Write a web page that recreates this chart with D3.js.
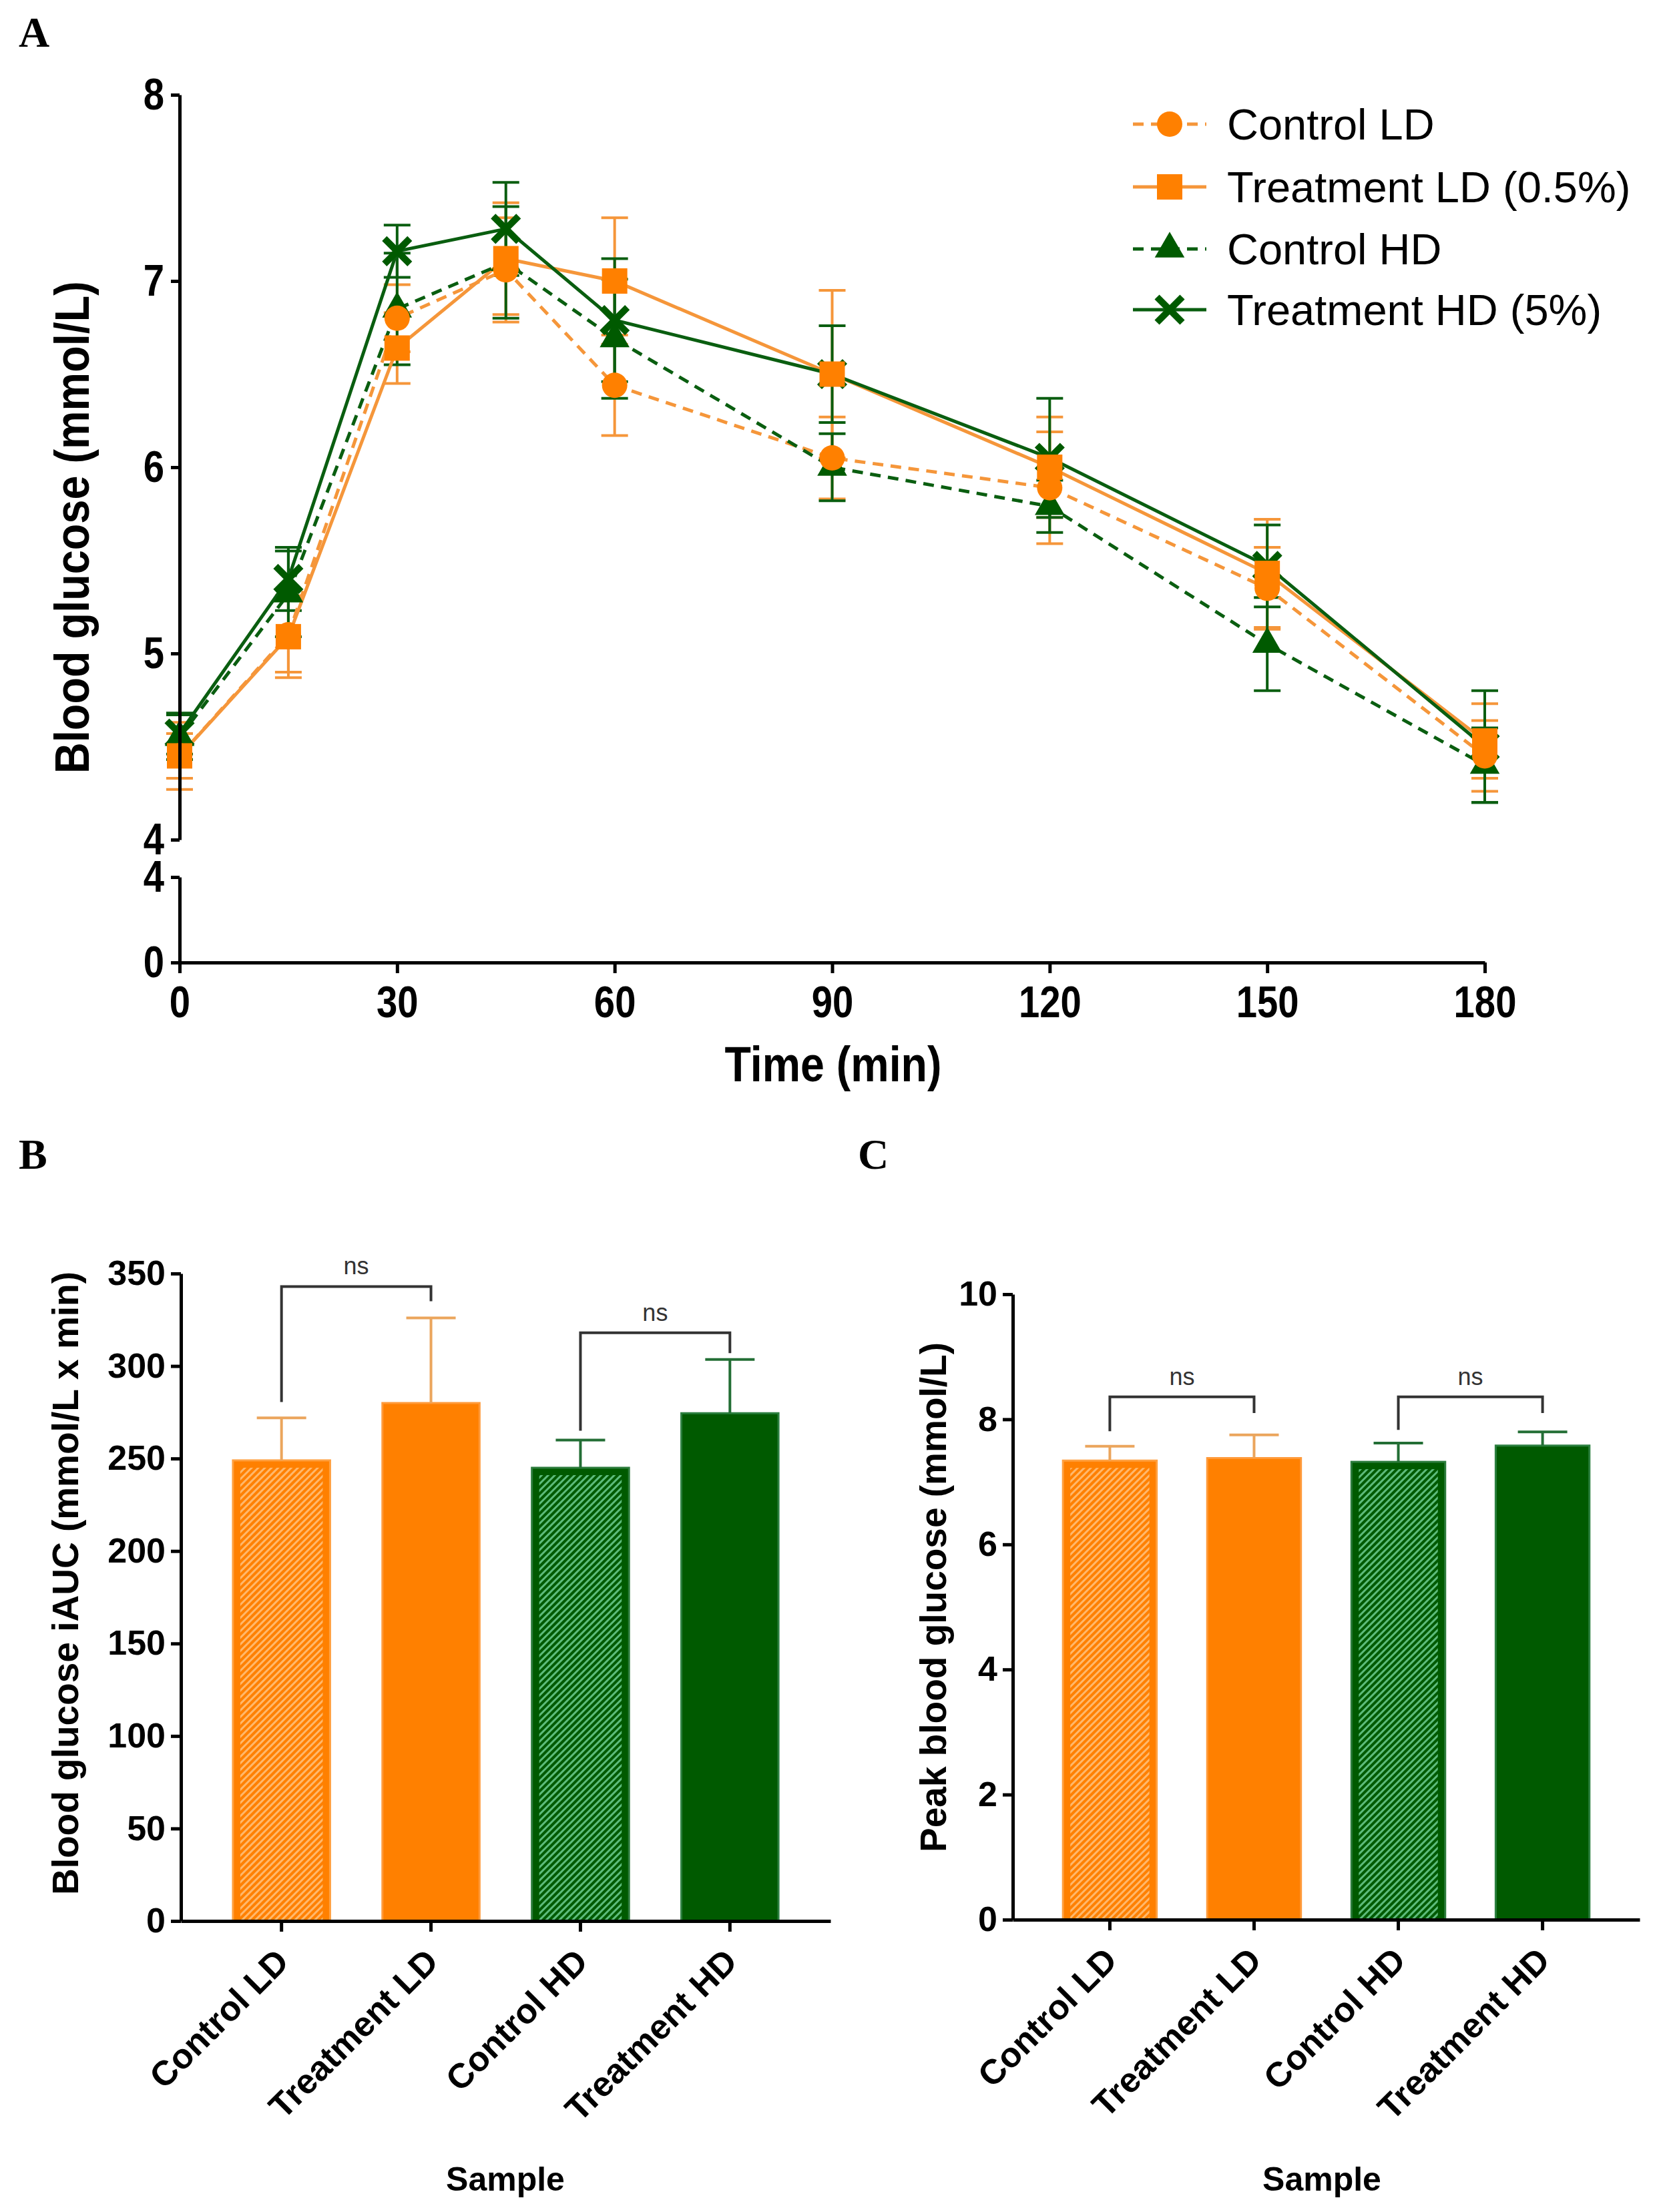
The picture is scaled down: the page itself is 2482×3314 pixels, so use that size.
<!DOCTYPE html>
<html><head><meta charset="utf-8">
<script src="https://cdn.jsdelivr.net/npm/d3@7"></script>
<style>body{margin:0;background:#fff}</style>
</head><body><svg id="c" width="2482" height="3314"></svg>
<script>
// ---------- DATA ----------
const times = [0, 15, 30, 45, 60, 90, 120, 150, 180];
const xTicksA = [0, 30, 60, 90, 120, 150, 180];
const yTicksTop = [4, 5, 6, 7, 8];
const yTicksBot = [0, 4];
const seriesNames = ["Control LD", "Treatment LD (0.5%)", "Control HD", "Treatment HD (5%)"];
const controlLD    = [4.45, 5.10, 6.80, 7.06, 6.44, 6.05, 5.89, 5.35, 4.45];
const controlLDErr = [0.12, 0.20, 0.18, 0.28, 0.27, 0.22, 0.30, 0.22, 0.19];
const treatLD      = [4.45, 5.09, 6.64, 7.12, 7.00, 6.50, 6.00, 5.43, 4.53];
const treatLDErr   = [0.18, 0.22, 0.19, 0.30, 0.34, 0.45, 0.27, 0.29, 0.20];
const controlHD    = [4.55, 5.32, 6.85, 7.10, 6.69, 6.00, 5.79, 5.05, 4.40];
const controlHDErr = [0.12, 0.23, 0.30, 0.30, 0.32, 0.18, 0.14, 0.25, 0.20];
const treatHD      = [4.57, 5.40, 7.16, 7.28, 6.79, 6.50, 6.05, 5.47, 4.50];
const treatHDErr   = [0.11, 0.17, 0.14, 0.25, 0.33, 0.26, 0.32, 0.22, 0.30];

const barCats = ["Control LD", "Treatment LD", "Control HD", "Treatment HD"];
const iaucMean = [249, 280, 245, 274.5];
const iaucErr  = [23, 46, 15, 29];
const iaucTicks = [0, 50, 100, 150, 200, 250, 300, 350];
const peakMean = [7.34, 7.38, 7.32, 7.58];
const peakErr  = [0.23, 0.37, 0.30, 0.22];
const peakTicks = [0, 2, 4, 6, 8, 10];
// brackets: [fromIndex, toIndex, topValue, leftLegEnd, rightLegEnd]
const iaucBrackets = [[0, 1, 343, 280.5, 335], [2, 3, 318, 265, 307]];
const peakBrackets = [[0, 1, 8.36, 7.81, 8.10], [2, 3, 8.36, 7.83, 8.10]];

// ---------- STYLE ----------
const F = '"Liberation Sans", Arial, Helvetica, sans-serif';
const FS = '"Liberation Serif", "Times New Roman", serif';
const ORANGE = "#FF8000", ORANGE_LINE = "#F5963A", ORANGE_ERR = "#EBA55C";
const GREEN = "#005A00", GREEN_LINE = "#0A5E10", GREEN_ERR = "#236E35";
const NARROW = 0.84;

const svg = d3.select("#c");
svg.append("rect").attr("width", 2482).attr("height", 3314).attr("fill", "#fff");

const defs = svg.append("defs");
function hatch(id, bg, fg) {
  const p = defs.append("pattern").attr("id", id).attr("patternUnits", "userSpaceOnUse")
    .attr("width", 7).attr("height", 7).attr("patternTransform", "rotate(45)");
  p.append("rect").attr("width", 7).attr("height", 7).attr("fill", bg);
  p.append("rect").attr("width", 3).attr("height", 7).attr("fill", fg);
}
hatch("hatchO", ORANGE, "#FFB86C");
hatch("hatchG", GREEN, "#5DBB7C");

function styleAxis(g, fs) {
  g.selectAll("path,line").attr("stroke", "#000").attr("stroke-width", 5);
  g.selectAll("text").attr("font-family", F).attr("font-weight", "bold")
    .attr("font-size", fs).attr("fill", "#000");
}
// condensed look for panel A labels
function narrowText(g) {
  g.selectAll(".tick text").each(function () {
    const t = d3.select(this);
    const x = +(t.attr("x") || 0);
    t.attr("x", 0).attr("transform", `translate(${x},0) scale(${NARROW},1)`);
  });
}

// ---------- PANEL A ----------
const xA = d3.scaleLinear().domain([0, 180]).range([269, 2224]);
const yTop = d3.scaleLinear().domain([4, 8]).range([1258, 142]);
const yBot = d3.scaleLinear().domain([0, 4]).range([1442, 1314]);

const series = [
  { name: seriesNames[0], mean: controlLD, err: controlLDErr, color: ORANGE, line: ORANGE_LINE, dash: true, marker: "circle" },
  { name: seriesNames[1], mean: treatLD, err: treatLDErr, color: ORANGE, line: ORANGE_LINE, dash: false, marker: "square" },
  { name: seriesNames[2], mean: controlHD, err: controlHDErr, color: GREEN, line: GREEN_LINE, dash: true, marker: "triangle" },
  { name: seriesNames[3], mean: treatHD, err: treatHDErr, color: GREEN, line: GREEN_LINE, dash: false, marker: "x" }
];

function drawMarker(g, type, color, cx, cy) {
  if (type === "circle") {
    g.append("circle").attr("cx", cx).attr("cy", cy).attr("r", 19).attr("fill", color);
  } else if (type === "square") {
    g.append("rect").attr("x", cx - 19).attr("y", cy - 19).attr("width", 38).attr("height", 38).attr("fill", color);
  } else if (type === "triangle") {
    g.append("path").attr("d", d3.symbol(d3.symbolTriangle, 860)()).attr("transform", `translate(${cx},${cy})`).attr("fill", color);
  } else {
    g.append("path").attr("d", "M-19,-19L19,19M-19,19L19,-19").attr("transform", `translate(${cx},${cy})`)
      .attr("stroke", color).attr("stroke-width", 10).attr("fill", "none");
  }
}

const gA = svg.append("g");
// error bars
series.forEach(s => {
  const g = gA.append("g").attr("stroke", s.line).attr("stroke-width", 4);
  times.forEach((t, i) => {
    const cx = xA(t), y1 = yTop(s.mean[i] - s.err[i]), y2 = yTop(s.mean[i] + s.err[i]);
    g.append("line").attr("x1", cx).attr("x2", cx).attr("y1", y1).attr("y2", y2);
    g.append("line").attr("x1", cx - 20).attr("x2", cx + 20).attr("y1", y1).attr("y2", y1);
    g.append("line").attr("x1", cx - 20).attr("x2", cx + 20).attr("y1", y2).attr("y2", y2);
  });
});
// lines
const lineGen = d3.line().x((d, i) => xA(times[i])).y(d => yTop(d));
series.forEach(s => {
  gA.append("path").attr("d", lineGen(s.mean)).attr("fill", "none").attr("stroke", s.line)
    .attr("stroke-width", 5).attr("stroke-dasharray", s.dash ? "16,11" : null);
});
// markers
[3, 2, 0, 1].forEach(k => {
  const s = series[k];
  times.forEach((t, i) => drawMarker(gA, s.marker, s.color, xA(t), yTop(s.mean[i])));
});

// axes A
const axTop = gA.append("g").attr("transform", "translate(269,0)")
  .call(d3.axisLeft(yTop).tickValues(yTicksTop).tickSize(13).tickSizeOuter(0).tickPadding(10).tickFormat(d3.format("d")));
styleAxis(axTop, 67); narrowText(axTop);
const axBot = gA.append("g").attr("transform", "translate(269,0)")
  .call(d3.axisLeft(yBot).tickValues(yTicksBot).tickSize(13).tickSizeOuter(0).tickPadding(10).tickFormat(d3.format("d")));
styleAxis(axBot, 67); narrowText(axBot);
const axX = gA.append("g").attr("transform", "translate(0,1442)")
  .call(d3.axisBottom(xA).tickValues(xTicksA).tickSize(16).tickSizeOuter(0).tickPadding(18).tickFormat(d3.format("d")));
styleAxis(axX, 67); narrowText(axX);

gA.append("text").attr("transform", "translate(108,790) rotate(-90) scale(0.9,1)").attr("text-anchor", "middle")
  .attr("dominant-baseline", "central").attr("font-family", F).attr("font-weight", "bold").attr("font-size", 72)
  .text("Blood glucose (mmol/L)");
gA.append("text").attr("transform", "translate(1248,1620) scale(0.86,1)").attr("text-anchor", "middle")
  .attr("font-family", F).attr("font-weight", "bold").attr("font-size", 75).text("Time (min)");

// legend
const legRows = [186, 280, 373, 464];
series.forEach((s, k) => {
  const g = gA.append("g").attr("transform", `translate(0,${legRows[k]})`);
  g.append("line").attr("x1", 1697).attr("x2", 1807).attr("y1", 0).attr("y2", 0)
    .attr("stroke", s.line).attr("stroke-width", 5).attr("stroke-dasharray", s.dash ? "16,11" : null);
  drawMarker(g, s.marker, s.color, 1752, 0);
  g.append("text").attr("x", 1838).attr("y", 0).attr("dy", "0.36em").attr("font-family", F)
    .attr("font-size", 65).attr("fill", "#000").text(s.name);
});

// ---------- BAR PANELS ----------
const barStyles = [
  { color: ORANGE, hatch: "url(#hatchO)", err: ORANGE_ERR, edge: "#FFA040" },
  { color: ORANGE, hatch: null, err: ORANGE_ERR, edge: "#FF9A3A" },
  { color: GREEN, hatch: "url(#hatchG)", err: GREEN_ERR, edge: "#2C7C3C" },
  { color: GREEN, hatch: null, err: GREEN_ERR, edge: "#2C8040" }
];

function barPanel(opt) {
  const g = svg.append("g");
  const x = d3.scaleBand().domain(barCats).range(opt.xr).paddingInner(0.35).paddingOuter(0.348);
  const y = d3.scaleLinear().domain(opt.dom).range(opt.yr);
  const bw = x.bandwidth();
  barCats.forEach((c, i) => {
    const st = barStyles[i];
    const x0 = x(c), yv = y(opt.mean[i]), h = y(0) - yv;
    g.append("rect").attr("x", x0).attr("y", yv).attr("width", bw).attr("height", h)
      .attr("fill", st.color).attr("stroke", st.edge).attr("stroke-width", 3);
    if (st.hatch) {
      g.append("rect").attr("x", x0 + 11).attr("y", yv + 11).attr("width", bw - 22).attr("height", h - 11)
        .attr("fill", st.hatch);
    }
    const cx = x0 + bw / 2, ye = y(opt.mean[i] + opt.err[i]);
    g.append("line").attr("x1", cx).attr("x2", cx).attr("y1", yv).attr("y2", ye)
      .attr("stroke", st.err).attr("stroke-width", 4);
    g.append("line").attr("x1", cx - 37).attr("x2", cx + 37).attr("y1", ye).attr("y2", ye)
      .attr("stroke", st.err).attr("stroke-width", 4);
  });
  // brackets
  opt.brackets.forEach(b => {
    const xl = x(barCats[b[0]]) + bw / 2, xr = x(barCats[b[1]]) + bw / 2;
    const yt = y(b[2]);
    g.append("path").attr("d", `M${xl},${y(b[3])}V${yt}H${xr}V${y(b[4])}`)
      .attr("fill", "none").attr("stroke", "#333").attr("stroke-width", 4);
    g.append("text").attr("x", (xl + xr) / 2).attr("y", yt - 18).attr("text-anchor", "middle")
      .attr("font-family", F).attr("font-size", 36).attr("fill", "#333").text("ns");
  });
  const ay = g.append("g").attr("transform", `translate(${opt.xr[0]},0)`)
    .call(d3.axisLeft(y).tickValues(opt.ticks).tickSize(15).tickSizeOuter(0).tickPadding(8).tickFormat(d3.format("d")));
  styleAxis(ay, 52);
  const ax = g.append("g").attr("transform", `translate(0,${opt.yr[0]})`)
    .call(d3.axisBottom(x).tickSize(16).tickSizeOuter(0));
  styleAxis(ax, 52);
  ax.selectAll(".tick text").attr("x", null).attr("y", null).attr("dy", null)
    .attr("text-anchor", "end").attr("transform", "translate(14,64) rotate(-45)");
  g.append("text").attr("transform", `translate(${opt.titleX},${opt.titleY}) rotate(-90)`)
    .attr("text-anchor", "middle").attr("dominant-baseline", "central")
    .attr("font-family", F).attr("font-weight", "bold").attr("font-size", 55).text(opt.title);
  g.append("text").attr("x", opt.sampleX).attr("y", 3282).attr("text-anchor", "middle")
    .attr("font-family", F).attr("font-weight", "bold").attr("font-size", 50).text("Sample");
}

barPanel({ xr: [271, 1244], yr: [2878, 1908], dom: [0, 350], mean: iaucMean, err: iaucErr,
  ticks: iaucTicks, brackets: iaucBrackets, title: "Blood glucose iAUC (mmol/L x min)",
  titleX: 98, titleY: 2372, sampleX: 757 });
barPanel({ xr: [1517, 2456], yr: [2876, 1939], dom: [0, 10], mean: peakMean, err: peakErr,
  ticks: peakTicks, brackets: peakBrackets, title: "Peak blood glucose (mmol/L)",
  titleX: 1398, titleY: 2393, sampleX: 1980 });

// panel letters
[["A", 28, 70], ["B", 28, 1751], ["C", 1285, 1751]].forEach(p => {
  svg.append("text").attr("x", p[1]).attr("y", p[2]).attr("font-family", FS).attr("font-weight", "bold")
    .attr("font-size", 64).attr("fill", "#000").text(p[0]);
});
</script></body></html>
